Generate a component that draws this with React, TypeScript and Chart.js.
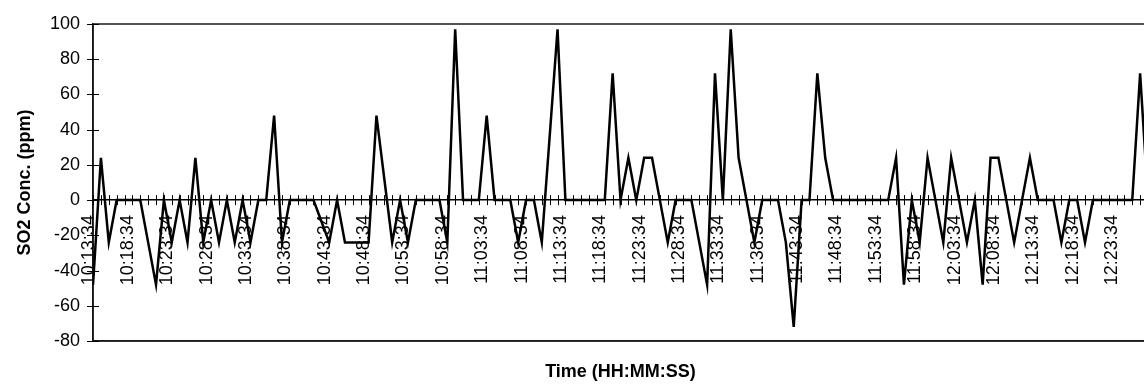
import React, { useEffect, useRef } from 'react';
import { Chart, registerables } from 'chart.js';

Chart.register(...registerables);

// Time labels shown every 5 minutes (one data point per minute)
const tickLabels = [
  '10:13:34', '10:18:34', '10:23:34', '10:28:34', '10:33:34', '10:38:34', '10:43:34',
  '10:48:34', '10:53:34', '10:58:34', '11:03:34', '11:08:34', '11:13:34', '11:18:34',
  '11:23:34', '11:28:34', '11:33:34', '11:38:34', '11:43:34', '11:48:34', '11:53:34',
  '11:58:34', '12:03:34', '12:08:34', '12:13:34', '12:18:34', '12:23:34',
];

// SO2 concentration (ppm), one reading per minute starting 10:13:34
const so2 = [
  -48, 24, -24, 0, 0, 0, 0, -24, -48, 0,
  -24, 0, -24, 24, -24, 0, -24, 0, -24, 0,
  -24, 0, 0, 48, -24, 0, 0, 0, 0, -12,
  -24, 0, -24, -24, -24, -24, 48, 12, -24, 0,
  -24, 0, 0, 0, 0, -24, 97, 0, 0, 0,
  48, 0, 0, 0, -24, 0, 0, -24, 36, 97,
  0, 0, 0, 0, 0, 0, 72, 0, 24, 0,
  24, 24, 0, -24, 0, 0, 0, -24, -48, 72,
  0, 97, 24, 0, -24, 0, 0, 0, -24, -72,
  0, 0, 72, 24, 0, 0, 0, 0, 0, 0,
  0, 0, 24, -48, 0, -24, 24, 0, -24, 24,
  0, -24, 0, -48, 24, 24, 0, -24, 0, 24,
  0, 0, 0, -24, 0, 0, -24, 0, 0, 0,
  0, 0, 0, 72, 0,
];

const yTitle = 'SO2 Conc. (ppm)';
const xTitle = 'Time (HH:MM:SS)';

const FONT = "'Liberation Sans', Arial, Helvetica, sans-serif";

const crossTicks = {
  id: 'crossTicks',
  beforeDatasetsDraw(chart: any) {
    const { ctx, chartArea, scales } = chart;
    const xs = scales.x;
    const ys = scales.y;
    ctx.save();
    // plot area frame
    ctx.strokeStyle = '#1a1a1a';
    ctx.lineWidth = 1.5;
    ctx.strokeRect(chartArea.left, chartArea.top, chartArea.right - chartArea.left, chartArea.bottom - chartArea.top);
    // minor ticks crossing the zero line and the value axis
    ctx.strokeStyle = '#000';
    ctx.lineWidth = 1;
    const y0 = ys.getPixelForValue(0);
    ctx.beginPath();
    xs.ticks.forEach((t: any) => {
      const px = Math.round(xs.getPixelForValue(t.value)) + 0.5;
      ctx.moveTo(px, y0 - 5);
      ctx.lineTo(px, y0 + 5);
    });
    ys.ticks.forEach((t: any) => {
      const py = Math.round(ys.getPixelForValue(t.value)) + 0.5;
      ctx.moveTo(chartArea.left - 6, py);
      ctx.lineTo(chartArea.left + 6, py);
    });
    ctx.stroke();
    ctx.restore();
  },
};

export default function App() {
  const ref = useRef<HTMLCanvasElement | null>(null);

  useEffect(() => {
    if (!ref.current) return;
    const chart = new Chart(ref.current, {
      type: 'line',
      data: {
        datasets: [
          {
            data: so2.map((v, i) => ({ x: i, y: v })),
            borderColor: '#000',
            borderWidth: 2.5,
            pointRadius: 0,
            tension: 0,
            fill: false,
          },
        ],
      },
      options: {
        responsive: false,
        animation: false,
        events: [],
        layout: { padding: { left: 0, top: 24, right: 37, bottom: 0 } },
        plugins: { legend: { display: false }, tooltip: { enabled: false } },
        scales: {
          x: {
            type: 'linear',
            position: { y: 0 } as any,
            min: 0,
            max: so2.length - 1,
            grid: { display: false, drawTicks: false },
            border: { display: true, color: '#000', width: 1.5 },
            ticks: {
              stepSize: 1,
              maxTicksLimit: 1000,
              autoSkip: false,
              minRotation: 90,
              maxRotation: 90,
              padding: 15,
              labelOffset: -4.5,
              color: '#000',
              font: { family: FONT, size: 18 },
              callback: (v: any) => {
                const n = Number(v);
                if (Number.isInteger(n) && n % 5 === 0 && tickLabels[n / 5]) return tickLabels[n / 5];
                return '';
              },
            },
          },
          x2: {
            type: 'linear',
            axis: 'x',
            position: 'bottom',
            min: 0,
            max: so2.length - 1,
            grid: { display: false, drawTicks: false },
            border: { display: true, color: '#1a1a1a', width: 1.5 },
            ticks: { display: false },
            title: {
              display: true,
              text: xTitle,
              color: '#000',
              font: { family: FONT, size: 18, weight: 'bold' },
              padding: { top: 20.4, bottom: 4 },
            },
          },
          y: {
            type: 'linear',
            position: 'left',
            min: -80,
            max: 100,
            grid: { display: false, drawTicks: false },
            border: { display: true, color: '#000', width: 1.5 },
            ticks: {
              stepSize: 20,
              padding: 13,
              color: '#000',
              font: { family: FONT, size: 18 },
            },
            title: {
              display: true,
              text: yTitle,
              color: '#000',
              font: { family: FONT, size: 18, weight: 'bold' },
              padding: { top: 14, bottom: 1.4 },
            },
          },
        },
      },
      plugins: [crossTicks],
    } as any);
    return () => chart.destroy();
  }, []);

  return (
    <div
      style={{
        position: 'fixed',
        left: 0,
        top: 0,
        width: 1144,
        height: 387,
        overflow: 'hidden',
        background: '#fff',
      }}
    >
      <canvas ref={ref} width={1185} height={387} style={{ display: 'block', width: 1185, height: 387 }} />
    </div>
  );
}
